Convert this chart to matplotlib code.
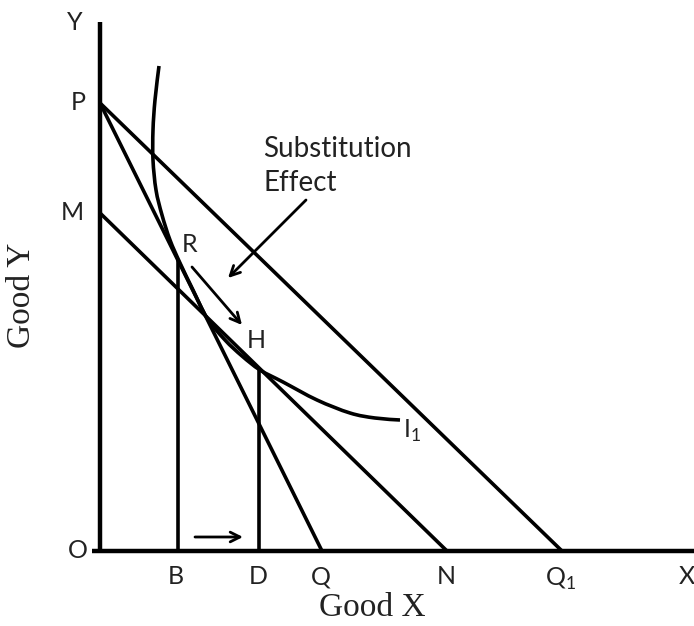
import matplotlib
matplotlib.use("Agg")
import matplotlib.pyplot as plt
from matplotlib.path import Path
from matplotlib.patches import PathPatch
import numpy as np

# Data (units: origin at O)
P_y = 44.8      # intercept of budget lines PQ and PQ1
M_y = 33.8      # intercept of compensated budget line MN
Q_x = 22.2
N_x = 34.7
Q1_x = 46.2
B_x = 7.8
D_x = 15.9
curve_x = [5.9, 5.5, 5.3, 5.3, 5.6, 6.2, 7.0, 8.0, 9.3, 10.7, 12.5, 14.2, 16.0, 18.3, 21.7, 25.0, 27.5, 30.0]
curve_y = [48.5, 45.1, 42.1, 39.1, 36.1, 33.6, 31.1, 28.8, 26.1, 23.3, 21.1, 19.5, 18.1, 16.9, 15.1, 13.8, 13.3, 13.1]
x_axis_end = 59.4
y_axis_end = 52.9

R_y = P_y * (1 - B_x / Q_x)
H_y = M_y * (1 - D_x / N_x)

fig = plt.figure(figsize=(6.94, 6.26), dpi=100)
ax = fig.add_axes([0, 0, 1, 1])
ax.set_xlim(-10, 59.4)
ax.set_ylim(-7.5, 55.1)
ax.axis("off")

lw_axis = 3.2
lw = 2.6
kw = dict(color="black", solid_capstyle="butt")
# axes
ax.plot([0, 0], [0, y_axis_end], lw=lw_axis, **kw)
ax.plot([-0.8, x_axis_end], [0, 0], lw=lw_axis, **kw)
# budget lines
ax.plot([0, Q_x], [P_y, 0], lw=lw, **kw)
ax.plot([0, Q1_x], [P_y, 0], lw=lw, **kw)
ax.plot([0, N_x], [M_y, 0], lw=lw, **kw)
# verticals
ax.plot([B_x, B_x], [0, R_y], lw=lw, **kw)
ax.plot([D_x, D_x], [0, H_y], lw=lw, **kw)

# indifference curve drawn as a smooth Bezier path through the read points
pts = np.column_stack([curve_x, curve_y])
verts = [pts[0]]
codes = [Path.MOVETO]
n = len(pts)
for i in range(n - 1):
    p0 = pts[i - 1] if i > 0 else pts[i]
    p1 = pts[i]
    p2 = pts[i + 1]
    p3 = pts[i + 2] if i + 2 < n else pts[i + 1]
    c1 = p1 + (p2 - p0) / 6.0
    c2 = p2 - (p3 - p1) / 6.0
    verts += [c1, c2, p2]
    codes += [Path.CURVE4] * 3
ax.add_patch(PathPatch(Path(verts, codes), fill=False, lw=lw, edgecolor="black", capstyle="butt"))

arrow = dict(arrowstyle="->,head_length=0.7,head_width=0.35", lw=2.0, color="black", shrinkA=0, shrinkB=0)
ax.annotate("", xy=(12.8, 27.3), xytext=(20.6, 35.1), arrowprops=arrow)
ax.annotate("", xy=(14.2, 22.6), xytext=(9.2, 28.4), arrowprops=arrow)
ax.annotate("", xy=(14.3, 1.4), xytext=(9.5, 1.4), arrowprops=arrow)

sans = dict(family=["Lato", "DejaVu Sans"], fontsize=18, color="#222222")
ax.text(-2.5, 52.8, "Y", ha="center", va="center", **sans)
ax.text(-2.2, 44.8, "P", ha="center", va="center", **sans)
ax.text(-2.8, 33.8, "M", ha="center", va="center", **sans)
ax.text(-2.2, 0.1, "O", ha="center", va="center", **sans)
ax.text(B_x - 0.2, -2.6, "B", ha="center", va="center", **sans)
ax.text(D_x - 0.1, -2.6, "D", ha="center", va="center", **sans)
ax.text(Q_x - 0.1, -2.6, "Q", ha="center", va="center", **sans)
ax.text(N_x - 0.1, -2.6, "N", ha="center", va="center", **sans)
ax.text(Q1_x - 0.1, -2.8, "Q$_\\mathregular{1}$", ha="center", va="center", **sans)
ax.text(58.7, -2.6, "X", ha="center", va="center", **sans)
ax.text(9.0, 30.6, "R", ha="center", va="center", **sans)
ax.text(15.6, 21.1, "H", ha="center", va="center", **sans)
ax.text(31.2, 12.0, "I$_\\mathregular{1}$", ha="center", va="center", **sans)
ax.text(16.3, 38.5, "Substitution\nEffect", ha="left", va="center", linespacing=1.35,
        family=["Lato", "DejaVu Sans"], fontsize=20, color="#222222")

serif = dict(family=["Liberation Serif", "DejaVu Serif"], fontsize=24, color="#222222")
ax.text(27.2, -5.7, "Good X", ha="center", va="center", **serif)
ax.text(-7.8, 25.6, "Good Y", ha="center", va="center", rotation=90, **serif)

fig.savefig("out.png", dpi=100)
